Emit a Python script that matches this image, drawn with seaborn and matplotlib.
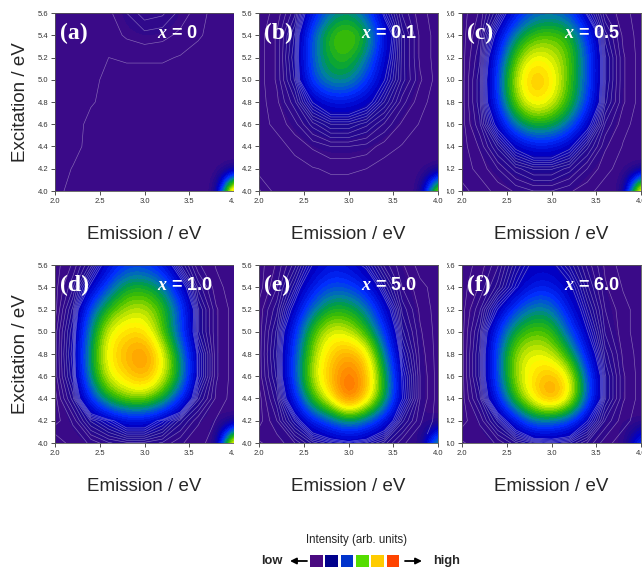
"""
Excitation-emission maps for the six x compositions, 2x3 panel layout.
"""

import numpy as np
import matplotlib
matplotlib.use("Agg")
import matplotlib.pyplot as plt
import seaborn as sns
from matplotlib.colors import LinearSegmentedColormap
from matplotlib.patches import Rectangle

sns.set_style("ticks")
plt.rcParams["font.family"] = ["Liberation Sans", "DejaVu Sans"]
plt.rcParams["mathtext.fontset"] = "custom"
plt.rcParams["mathtext.it"] = "Liberation Serif:italic:bold"
plt.rcParams["mathtext.rm"] = "Liberation Sans:bold"

# grid, rows from excitation 5.6 (top) down to 4.0
emission = [2.0, 2.2, 2.4, 2.6, 2.8, 3.0, 3.2, 3.4, 3.6, 3.8, 4.0]
excitation = [5.6, 5.4, 5.2, 5.0, 4.8, 4.6, 4.4, 4.2, 4.0]

panel_tags = ["(a)", "(b)", "(c)", "(d)", "(e)", "(f)"]
x_values = ["0", "0.1", "0.5", "1.0", "5.0", "6.0"]

int_a = [
    [0.015, 0.015, 0.015, 0.015, 0.03, 0.05, 0.045, 0.025, 0.012, 0, 0],
    [0.015, 0.015, 0.015, 0.012, 0.02, 0.025, 0.022, 0.015, 0.008, 0, 0],
    [0.015, 0.015, 0.012, 0.006, 0.008, 0.008, 0.008, 0.005, 0, 0, 0],
    [0.015, 0.015, 0.012, 0, 0, 0, 0, 0, 0, 0, 0],
    [0.015, 0.015, 0.008, 0, 0, 0, 0, 0, 0, 0, 0],
    [0.015, 0.015, 0, 0, 0, 0, 0, 0, 0, 0, 0],
    [0.015, 0.012, 0, 0, 0, 0, 0, 0, 0, 0, 0],
    [0.015, 0.005, 0, 0, 0, 0, 0, 0, 0, 0, 0],
    [0.012, 0, 0, 0, 0, 0, 0, 0, 0, 0, 1.0],
]
int_b = [
    [0, 0.01, 0.05, 0.2, 0.34, 0.38, 0.3, 0.12, 0.04, 0.01, 0],
    [0, 0.02, 0.08, 0.32, 0.5, 0.56, 0.46, 0.2, 0.06, 0.015, 0],
    [0, 0.02, 0.09, 0.32, 0.46, 0.48, 0.36, 0.17, 0.06, 0.015, 0],
    [0, 0.02, 0.08, 0.3, 0.4, 0.4, 0.28, 0.14, 0.06, 0.02, 0],
    [0, 0.015, 0.05, 0.14, 0.2, 0.2, 0.16, 0.09, 0.035, 0.01, 0],
    [0, 0.01, 0.025, 0.06, 0.09, 0.09, 0.07, 0.04, 0.015, 0.005, 0],
    [0, 0, 0.01, 0.02, 0.03, 0.03, 0.025, 0.012, 0.005, 0, 0],
    [0, 0, 0, 0.005, 0.008, 0.008, 0.006, 0, 0, 0, 0],
    [0.02, 0, 0, 0, 0, 0, 0, 0, 0, 0, 0.75],
]
int_c = [
    [0, 0.02, 0.08, 0.2, 0.3, 0.32, 0.28, 0.12, 0.03, 0.01, 0],
    [0, 0.03, 0.16, 0.38, 0.5, 0.52, 0.48, 0.26, 0.06, 0.015, 0],
    [0, 0.04, 0.24, 0.52, 0.66, 0.62, 0.52, 0.3, 0.08, 0.02, 0],
    [0, 0.05, 0.28, 0.6, 0.78, 0.7, 0.5, 0.3, 0.08, 0.02, 0],
    [0, 0.05, 0.26, 0.55, 0.7, 0.64, 0.48, 0.28, 0.07, 0.02, 0],
    [0, 0.04, 0.16, 0.36, 0.46, 0.44, 0.34, 0.16, 0.04, 0.01, 0],
    [0, 0.02, 0.07, 0.15, 0.2, 0.2, 0.15, 0.07, 0.02, 0.005, 0],
    [0, 0.01, 0.03, 0.06, 0.08, 0.08, 0.06, 0.03, 0.01, 0, 0],
    [0.01, 0, 0.01, 0.02, 0.03, 0.03, 0.02, 0.01, 0, 0, 0.9],
]
int_d = [
    [0, 0.02, 0.07, 0.18, 0.26, 0.26, 0.2, 0.08, 0.02, 0.005, 0],
    [0, 0.04, 0.15, 0.3, 0.45, 0.46, 0.38, 0.18, 0.05, 0.01, 0],
    [0, 0.07, 0.3, 0.48, 0.58, 0.6, 0.5, 0.3, 0.08, 0.02, 0],
    [0.01, 0.09, 0.38, 0.64, 0.7, 0.7, 0.5, 0.28, 0.08, 0.02, 0],
    [0.01, 0.1, 0.42, 0.68, 0.78, 0.86, 0.66, 0.38, 0.12, 0.02, 0],
    [0.01, 0.09, 0.4, 0.64, 0.72, 0.8, 0.64, 0.42, 0.12, 0.02, 0],
    [0, 0.06, 0.26, 0.46, 0.55, 0.56, 0.46, 0.26, 0.07, 0.015, 0],
    [0, 0.02, 0.08, 0.12, 0.18, 0.18, 0.12, 0.06, 0.02, 0.005, 0],
    [0.03, 0.01, 0.02, 0.04, 0.05, 0.05, 0.04, 0.02, 0.01, 0, 0.9],
]
int_e = [
    [0, 0.02, 0.06, 0.14, 0.2, 0.18, 0.12, 0.05, 0.02, 0, 0],
    [0, 0.03, 0.1, 0.22, 0.3, 0.29, 0.22, 0.1, 0.03, 0.01, 0],
    [0.01, 0.05, 0.16, 0.34, 0.46, 0.46, 0.36, 0.18, 0.05, 0.015, 0],
    [0.01, 0.07, 0.24, 0.5, 0.64, 0.6, 0.48, 0.26, 0.07, 0.02, 0],
    [0.01, 0.08, 0.28, 0.56, 0.72, 0.8, 0.7, 0.36, 0.1, 0.025, 0],
    [0.01, 0.07, 0.3, 0.6, 0.76, 0.92, 0.78, 0.44, 0.13, 0.03, 0],
    [0, 0.05, 0.22, 0.5, 0.68, 0.96, 0.74, 0.45, 0.14, 0.03, 0],
    [0, 0.03, 0.1, 0.22, 0.3, 0.38, 0.32, 0.2, 0.07, 0.02, 0],
    [0.02, 0.01, 0.03, 0.07, 0.1, 0.12, 0.1, 0.06, 0.02, 0.01, 0.5],
]
int_f = [
    [0, 0.01, 0.04, 0.1, 0.15, 0.15, 0.1, 0.05, 0.015, 0, 0],
    [0, 0.02, 0.06, 0.13, 0.22, 0.22, 0.15, 0.07, 0.02, 0.005, 0],
    [0, 0.04, 0.14, 0.28, 0.38, 0.36, 0.2, 0.1, 0.03, 0.01, 0],
    [0, 0.06, 0.25, 0.45, 0.52, 0.5, 0.3, 0.14, 0.04, 0.01, 0],
    [0, 0.07, 0.3, 0.58, 0.64, 0.6, 0.45, 0.2, 0.06, 0.015, 0],
    [0, 0.07, 0.3, 0.58, 0.7, 0.78, 0.65, 0.3, 0.08, 0.02, 0],
    [0, 0.05, 0.24, 0.5, 0.7, 0.86, 0.68, 0.32, 0.08, 0.02, 0],
    [0, 0.02, 0.08, 0.2, 0.35, 0.32, 0.28, 0.14, 0.04, 0.01, 0],
    [0.02, 0.01, 0.02, 0.05, 0.08, 0.1, 0.08, 0.04, 0.01, 0, 0.35],
]
maps = [int_a, int_b, int_c, int_d, int_e, int_f]

legend_colors = ["#4a0a80", "#00008c", "#0033cc", "#55dd00", "#ffcc00", "#ff4400"]

cmap = LinearSegmentedColormap.from_list("eem", [
    (0.0, "#3a0a88"), (0.08, "#1c0894"), (0.16, "#0000c8"), (0.26, "#0030ff"),
    (0.36, "#0080a0"), (0.42, "#00a040"), (0.5, "#40c000"), (0.58, "#b0e000"),
    (0.65, "#ffff00"), (0.75, "#ffc000"), (0.87, "#ff8000"), (1.0, "#ff2000")],
    N=40)

W, H = 642, 567
fig = plt.figure(figsize=(W / 100, H / 100), dpi=100)

col_left = [55, 259, 462]
row_top = [13, 265]
pw, ph = 179, 178

dx = emission[1] - emission[0]
dy = excitation[0] - excitation[1]
extent = [emission[0] - dx / 2, emission[-1] + dx / 2,
          excitation[-1] - dy / 2, excitation[0] + dy / 2]

for k, Z in enumerate(maps):
    r, c = divmod(k, 3)
    ax = fig.add_axes([col_left[c] / W, 1 - (row_top[r] + ph) / H, pw / W, ph / H])
    if c == 1:
        # the middle panel sits on top and hides the neighbours' edge labels
        ax.set_zorder(2)
        ax.add_patch(Rectangle((-25 / pw, -0.1), (447 - 234) / pw, 1.14,
                               transform=ax.transAxes, facecolor="white",
                               edgecolor="none", zorder=-5, clip_on=False))
    Z = np.array(Z)
    ax.imshow(Z, extent=extent, origin="upper", cmap=cmap, vmin=0, vmax=1,
              interpolation="bicubic", interpolation_stage="data", aspect="auto")
    # leave the scatter spot in the corner out of the contour lines
    Zc = np.ma.masked_array(Z, mask=np.zeros_like(Z, dtype=bool))
    Zc[-1, -1] = np.ma.masked
    ax.contour(emission, excitation, Zc, levels=np.arange(0.006, 0.14, 0.012),
               colors="white", linewidths=0.45, alpha=0.4)
    ax.set_xlim(2.0, 4.0)
    ax.set_ylim(4.0, 5.6)
    ax.set_xticks([2.0, 2.5, 3.0, 3.5, 4.0])
    ax.set_yticks(np.arange(4.0, 5.61, 0.2))
    ax.xaxis.set_major_formatter("{x:.1f}")
    ax.yaxis.set_major_formatter("{x:.1f}")
    ax.tick_params(direction="out", length=3, width=0.6, color="#333333",
                   labelsize=5.5, labelcolor="#333333", pad=2)
    for sp in ax.spines.values():
        sp.set_color("#555555")
        sp.set_linewidth(0.6)
    ax.set_xlabel("Emission / eV", fontsize=13.5, labelpad=15)
    if c == 0:
        ax.set_ylabel("Excitation / eV", fontsize=13.5, labelpad=6)

    ax.text(0.03, 0.945, panel_tags[k], transform=ax.transAxes, color="white",
            fontsize=17, fontweight="bold", family="Liberation Serif",
            ha="left", va="top")
    ax.text(0.57, 0.885, rf"$x$ = {x_values[k]}", transform=ax.transAxes,
            color="white", fontsize=13, fontweight="bold", ha="left", va="center")

# intensity key at the bottom
lax = fig.add_axes([0, 0, 1, 1])
lax.set_xlim(0, W)
lax.set_ylim(H, 0)
lax.axis("off")
for i, col in enumerate(legend_colors):
    lax.add_patch(Rectangle((310 + i * 15.3, 555), 12.7, 12,
                            facecolor=col, edgecolor="none"))
lax.text(357, 540, "Intensity (arb. units)", fontsize=8.3, ha="center", va="center")
lax.text(272, 561, "low", fontsize=9.3, fontweight="bold", ha="center", va="center")
lax.text(447, 561, "high", fontsize=9.3, fontweight="bold", ha="center", va="center")
arrow = dict(arrowstyle="-|>", lw=1.3, color="black", mutation_scale=9,
             shrinkA=0, shrinkB=0)
lax.annotate("", xy=(290, 561), xytext=(307, 561), arrowprops=arrow)
lax.annotate("", xy=(422, 561), xytext=(405, 561), arrowprops=arrow)

fig.savefig("out.png", dpi=100)
